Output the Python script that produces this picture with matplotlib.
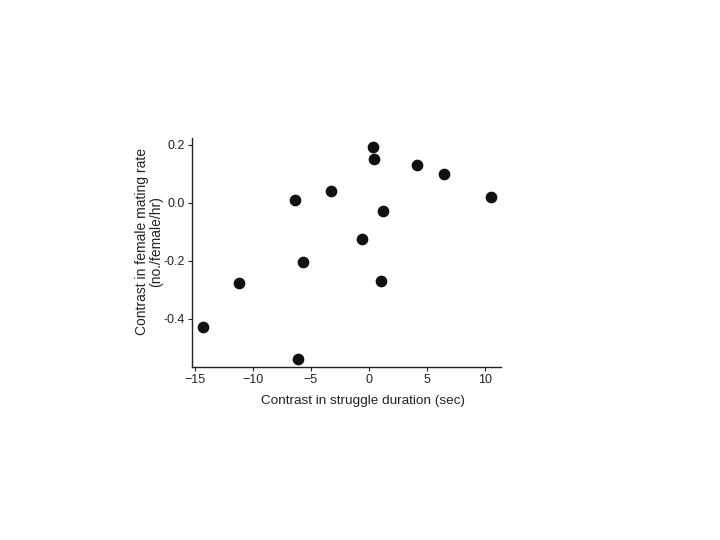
import matplotlib
matplotlib.use("Agg")
import matplotlib.pyplot as plt
from matplotlib.ticker import FixedLocator, FixedFormatter

plt.rcParams['font.family'] = ['Liberation Sans', 'DejaVu Sans']

struggle = [-14.26, -11.21, -6.38, -5.64, -6.07, -3.22, -0.58, 0.34, 0.48, 1.06, 1.23, 4.16, 6.49, 10.54]
mating = [-0.427, -0.276, 0.009, -0.204, -0.538, 0.039, -0.126, 0.192, 0.151, -0.271, -0.027, 0.130, 0.100, 0.020]

xticks = [-15, -10, -5, 0, 5, 10]
xticklabels = ['\u221215', '\u221210', '\u22125', '0', '5', '10']
yticks = [0.2, 0.0, -0.2, -0.4]
yticklabels = ['0.2', '0.0', '-0.2', '-0.4']

fig = plt.figure(figsize=(7.2, 5.4), dpi=100)
ax = fig.add_axes([192/720, 1-367/540, (501-192)/720, (367-138)/540])
ax.scatter(struggle, mating, s=55, color='#111111', zorder=3)
ax.set_xlim(-15.25, 11.4)
ax.set_ylim(-0.566, 0.223)
ax.xaxis.set_major_locator(FixedLocator(xticks))
ax.xaxis.set_major_formatter(FixedFormatter(xticklabels))
ax.yaxis.set_major_locator(FixedLocator(yticks))
ax.yaxis.set_major_formatter(FixedFormatter(yticklabels))
for s in ['top', 'right']:
    ax.spines[s].set_visible(False)
for s in ['left', 'bottom']:
    ax.spines[s].set_linewidth(1.0)
    ax.spines[s].set_color('#222222')
ax.tick_params(axis='both', labelsize=9, length=3, width=0.8, colors='#222222', pad=2)
ax.set_xlabel('Contrast in struggle duration (sec)', fontsize=9.7, color='#222222')
ax.set_ylabel('Contrast in female mating rate\n(no./female/hr)', fontsize=10, color='#222222', linespacing=1.0)
ax.xaxis.set_label_coords(0.552, -0.122)
ax.yaxis.set_label_coords(-0.093, 0.546)
fig.savefig('out.png', dpi=100)
